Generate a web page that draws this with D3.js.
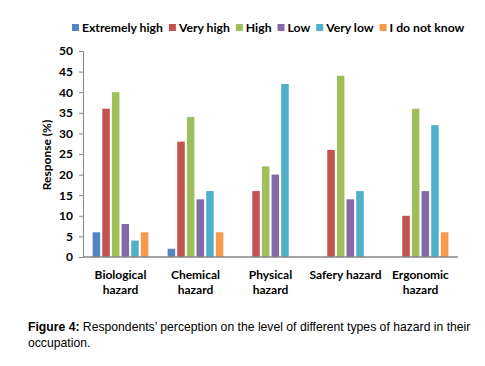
<!DOCTYPE html>
<html>
<head>
<meta charset="utf-8">
<script src="https://cdn.jsdelivr.net/npm/d3@7"></script>
<style>
  body { margin: 0; background: #fff; }
  svg { display: block; }
</style>
</head>
<body>
<div id="chart"></div>
<script>
// hazard perception chart
const categories = [["Biological", "hazard"], ["Chemical", "hazard"], ["Physical", "hazard"], ["Safery hazard"], ["Ergonomic", "hazard"]];
const seriesNames = ["Extremely high", "Very high", "High", "Low", "Very low", "I do not know"];
const seriesColors = ["#5384C3", "#C4524F", "#9FBF5C", "#8568A8", "#4FB0C9", "#F89A4E"];
const extremelyHigh = [6, 2, 0, 0, 0];
const veryHigh = [36, 28, 16, 26, 10];
const high = [40, 34, 22, 44, 36];
const low = [8, 14, 20, 14, 16];
const veryLow = [4, 16, 42, 16, 32];
const doNotKnow = [6, 6, 0, 0, 6];
const yTicks = [0, 5, 10, 15, 20, 25, 30, 35, 40, 45, 50];

const series = [extremelyHigh, veryHigh, high, low, veryLow, doNotKnow];

const W = 485, H = 366;
const svg = d3.select("#chart").append("svg").attr("width", W).attr("height", H);
const margin = { left: 83, right: 27, top: 51, bottom: 109 };
const innerWidth = W - margin.left - margin.right;
const innerHeight = H - margin.top - margin.bottom;
const chart = svg.append("g").attr("transform", `translate(${margin.left},${margin.top})`);

const x = d3.scaleBand().domain(d3.range(categories.length)).range([0, innerWidth]).paddingInner(0).paddingOuter(0);
const xs = d3.scaleBand().domain(d3.range(seriesNames.length)).range([0, 60]).padding(0.22);
const y = d3.scaleLinear().domain([0, 50]).range([innerHeight, 0]);

// bars
series.forEach((vals, si) => {
  chart.append("g").attr("fill", seriesColors[si])
    .selectAll("rect").data(vals).enter().append("rect")
    .attr("x", (d, i) => x(i) + (x.bandwidth() - 60) / 2 + xs(si))
    .attr("y", d => y(d))
    .attr("width", xs.bandwidth())
    .attr("height", d => innerHeight - y(d));
});

// y axis
const yAxis = chart.append("g").call(d3.axisLeft(y).tickValues(yTicks).tickSize(4).tickPadding(6));
yAxis.select(".domain").attr("stroke", "#868686");
yAxis.selectAll(".tick line").attr("stroke", "#868686");
yAxis.selectAll("text").attr("font-family", "Lato, 'Open Sans', sans-serif").attr("font-weight", "bold")
  .attr("font-size", "12px").attr("fill", "#000");

// x axis
chart.append("line").attr("x1", 0).attr("x2", innerWidth).attr("y1", innerHeight).attr("y2", innerHeight)
  .attr("stroke", "#868686").attr("stroke-width", 1.3);

categories.forEach((lines, i) => {
  const t = chart.append("text").attr("x", x(i) + x.bandwidth() / 2).attr("y", innerHeight + 22)
    .attr("text-anchor", "middle").attr("font-family", "Lato, 'Open Sans', sans-serif")
    .attr("font-weight", "bold").attr("font-size", "12px").attr("fill", "#000");
  lines.forEach((l, j) => t.append("tspan").attr("x", x(i) + x.bandwidth() / 2).attr("dy", j ? 15 : 0).text(l));
});

// y label
svg.append("text").attr("transform", `translate(51,155) rotate(-90)`).attr("text-anchor", "middle")
  .attr("font-family", "Lato, 'Open Sans', sans-serif").attr("font-weight", "bold").attr("font-size", "12px")
  .text("Response (%)");

// legend
const legend = svg.append("g").attr("transform", "translate(72,32)");
let lx = 0;
seriesNames.forEach((m, i) => {
  const g = legend.append("g").attr("transform", `translate(${lx},0)`);
  g.append("rect").attr("x", 0).attr("y", -8).attr("width", 7).attr("height", 7).attr("fill", seriesColors[i]);
  const t = g.append("text").attr("x", 10).attr("y", 0).attr("font-family", "Lato, 'Open Sans', sans-serif")
    .attr("font-weight", "bold").attr("font-size", "12.2px").attr("fill", "#000").text(m);
  lx += 10 + t.node().getComputedTextLength() + 6;
});

// caption
const cap = svg.append("g").attr("font-family", "'Liberation Sans', Arial, sans-serif").attr("font-size", "12.2px").attr("fill", "#000");
const c1 = cap.append("text").attr("x", 28).attr("y", 331);
c1.append("tspan").attr("font-weight", "bold").text("Figure 4:");
c1.append("tspan").text(" Respondents\u2019 perception on the level of different types of hazard in their");
cap.append("text").attr("x", 28).attr("y", 347).text("occupation.");
</script>
</body>
</html>
